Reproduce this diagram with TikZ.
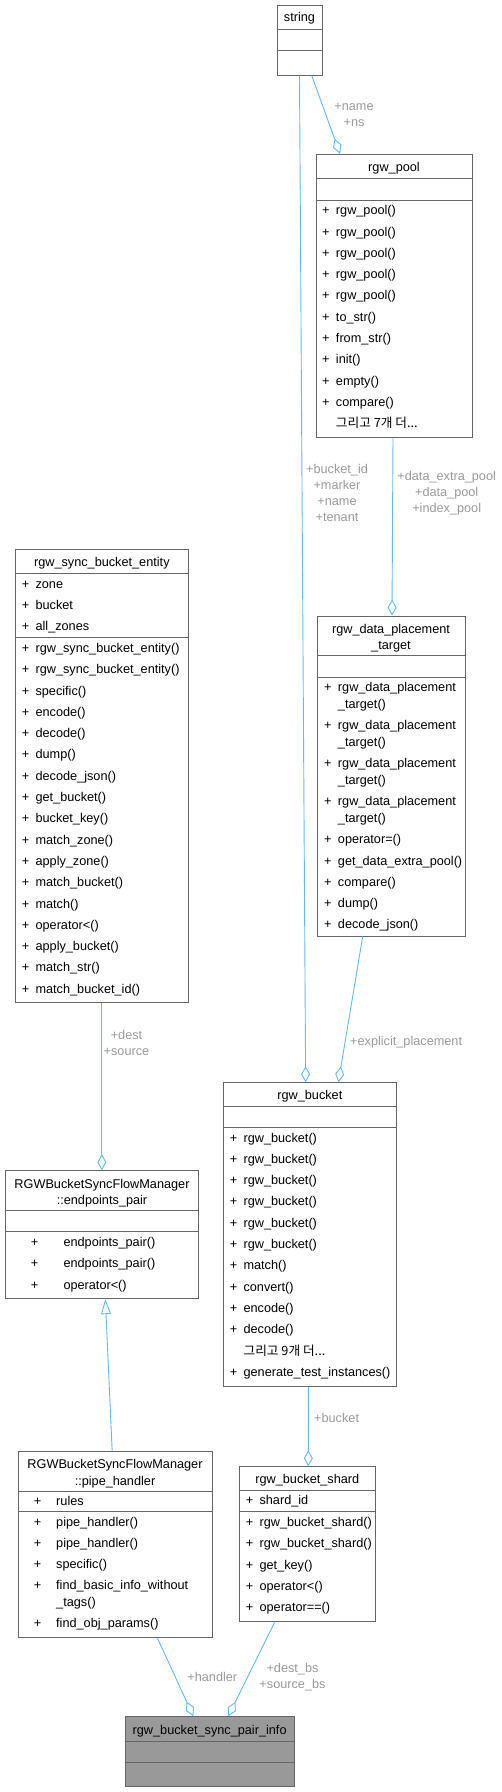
\documentclass[tikz,border=0pt]{standalone}
\usepackage{fontspec}
\setmainfont{Liberation Sans}
\newfontfamily\kr{Noto Sans CJK KR}
\usetikzlibrary{arrows.meta}
\definecolor{edgeblue}{HTML}{63B8FF}
\definecolor{boxgray}{HTML}{666666}
\definecolor{labelgray}{HTML}{9A9A9A}
\definecolor{mainfill}{HTML}{999999}
\begin{document}
\begin{tikzpicture}[x=1pt,y=-1pt,
 font=\fontsize{12.7}{21.3}\selectfont,
 cls/.style={draw=boxgray,line width=0.9pt,fill=white,inner sep=0pt},
 sep/.style={draw=boxgray,line width=0.9pt},
 title/.style={anchor=base,inner sep=0pt},
 title2/.style={anchor=north,align=center,inner sep=0pt,font=\fontsize{12.7}{16.3}\selectfont},
 rows/.style={anchor=north west,align=left,inner sep=0pt},
 agg/.style={draw=edgeblue,line width=0.9pt,-{Diamond[open,length=16pt,width=9pt]}},
 inh/.style={draw=edgeblue,line width=0.9pt,-{Triangle[open,length=15pt,width=10pt]}},
 lbl/.style={text=labelgray,align=center,inner sep=0pt,font=\fontsize{12.7}{16}\selectfont}]
\useasboundingbox (0,0) rectangle (502,1792);
% string
\node[cls,minimum width=45pt,minimum height=70pt] (str) at (299.5,40) {};
\node[title] (strT) at (299.5,21.8) {string};
\draw[sep] (str.west |- 0,29.3) -- (str.east |- 0,29.3);
\draw[sep] (str.west |- 0,50.7) -- (str.east |- 0,50.7);
% rgw_pool
\node[cls,minimum width=156pt,minimum height=283pt] (pool) at (394,295.7) {};
\node[title] (poolT) at (394,171.8) {rgw\_pool};
\draw[sep] (pool.west |- 0,178.3) -- (pool.east |- 0,178.3);
\draw[sep] (pool.west |- 0,200) -- (pool.east |- 0,200);
\node[rows] (poolM) at (322,199.6) {\strut+\enspace rgw\_pool()\\+\enspace rgw\_pool()\\+\enspace rgw\_pool()\\+\enspace rgw\_pool()\\+\enspace rgw\_pool()\\+\enspace to\_str()\\+\enspace from\_str()\\+\enspace init()\\+\enspace empty()\\+\enspace compare()\\\phantom{+}\enspace{\kr 그리고 7개 더...}};
% rgw_data_placement_target
\node[cls,minimum width=148pt,minimum height=320pt] (dpt) at (391,776) {};
\node[title2] (dptT) at (391,621.4) {\strut rgw\_data\_placement\\\_target};
\draw[sep] (dpt.west |- 0,655.7) -- (dpt.east |- 0,655.7);
\draw[sep] (dpt.west |- 0,677.3) -- (dpt.east |- 0,677.3);
\node[rows] (dptM) at (324,676.6) {\strut+\enspace rgw\_data\_placement\\[-4.6pt]\phantom{+}\enspace\_target()\\+\enspace rgw\_data\_placement\\[-4.6pt]\phantom{+}\enspace\_target()\\+\enspace rgw\_data\_placement\\[-4.6pt]\phantom{+}\enspace\_target()\\+\enspace rgw\_data\_placement\\[-4.6pt]\phantom{+}\enspace\_target()\\+\enspace operator=()\\+\enspace get\_data\_extra\_pool()\\+\enspace compare()\\+\enspace dump()\\+\enspace decode\_json()};
% rgw_sync_bucket_entity
\node[cls,minimum width=172.3pt,minimum height=453.4pt] (ent) at (101.85,776) {};
\node[title] (entT) at (101.85,566.2) {rgw\_sync\_bucket\_entity};
\draw[sep] (ent.west |- 0,573.3) -- (ent.east |- 0,573.3);
\draw[sep] (ent.west |- 0,637.3) -- (ent.east |- 0,637.3);
\node[rows] (entA) at (21.6,572.9) {\strut+\enspace zone\\+\enspace bucket\\+\enspace all\_zones};
\node[rows] (entM) at (21.6,637.3) {\strut+\enspace rgw\_sync\_bucket\_entity()\\+\enspace rgw\_sync\_bucket\_entity()\\+\enspace specific()\\+\enspace encode()\\+\enspace decode()\\+\enspace dump()\\+\enspace decode\_json()\\+\enspace get\_bucket()\\+\enspace bucket\_key()\\+\enspace match\_zone()\\+\enspace apply\_zone()\\+\enspace match\_bucket()\\+\enspace match()\\+\enspace operator<()\\+\enspace apply\_bucket()\\+\enspace match\_str()\\+\enspace match\_bucket\_id()};
% endpoints_pair
\node[cls,minimum width=193.7pt,minimum height=128pt] (pair) at (101.85,1234.7) {};
\node[title2] (pairT) at (102,1176.4) {\strut RGWBucketSyncFlowManager\\::endpoints\_pair};
\draw[sep] (pair.west |- 0,1210.7) -- (pair.east |- 0,1210.7);
\draw[sep] (pair.west |- 0,1231.7) -- (pair.east |- 0,1231.7);
\node[rows] (pairM) at (30.6,1231.3) {\strut+\hspace{25.3pt}endpoints\_pair()\\+\hspace{25.3pt}endpoints\_pair()\\+\hspace{25.3pt}operator<()};
% rgw_bucket
\node[cls,minimum width=173.7pt,minimum height=304pt] (bkt) at (309.85,1234.7) {};
\node[title] (bktT) at (309.85,1099.8) {rgw\_bucket};
\draw[sep] (bkt.west |- 0,1106.7) -- (bkt.east |- 0,1106.7);
\draw[sep] (bkt.west |- 0,1127.7) -- (bkt.east |- 0,1127.7);
\node[rows] (bktM) at (229.6,1126.9) {\strut+\enspace rgw\_bucket()\\+\enspace rgw\_bucket()\\+\enspace rgw\_bucket()\\+\enspace rgw\_bucket()\\+\enspace rgw\_bucket()\\+\enspace rgw\_bucket()\\+\enspace match()\\+\enspace convert()\\+\enspace encode()\\+\enspace decode()\\\phantom{+}\enspace{\kr 그리고 9개 더...}\\+\enspace generate\_test\_instances()};
% pipe_handler
\node[cls,minimum width=193.7pt,minimum height=186.3pt] (hdl) at (115.15,1544.15) {};
\node[title2] (hdlT) at (115,1457.1) {\strut RGWBucketSyncFlowManager\\::pipe\_handler};
\draw[sep] (hdl.west |- 0,1491) -- (hdl.east |- 0,1491);
\draw[sep] (hdl.west |- 0,1511.7) -- (hdl.east |- 0,1511.7);
\node[rows] (hdlA) at (33.6,1490.3) {\strut+\hspace{15pt}rules};
\node[rows] (hdlM) at (33.6,1510.9) {\strut+\hspace{15pt}pipe\_handler()\\+\hspace{15pt}pipe\_handler()\\+\hspace{15pt}specific()\\+\hspace{15pt}find\_basic\_info\_without\\[-4.6pt]\phantom{+}\hspace{15pt}\_tags()\\+\hspace{15pt}find\_obj\_params()};
% rgw_bucket_shard
\node[cls,minimum width=136pt,minimum height=154.3pt] (shd) at (307.3,1543.85) {};
\node[title] (shdT) at (307.3,1483.8) {rgw\_bucket\_shard};
\draw[sep] (shd.west |- 0,1490) -- (shd.east |- 0,1490);
\draw[sep] (shd.west |- 0,1511.3) -- (shd.east |- 0,1511.3);
\node[rows] (shdA) at (245.6,1489.6) {\strut+\enspace shard\_id};
\node[rows] (shdM) at (245.6,1511.3) {\strut+\enspace rgw\_bucket\_shard()\\+\enspace rgw\_bucket\_shard()\\+\enspace get\_key()\\+\enspace operator<()\\+\enspace operator==()};
% rgw_bucket_sync_pair_info
\node[cls,fill=mainfill,minimum width=169.3pt,minimum height=70pt] (info) at (209.65,1751.7) {};
\node[title] (infoT) at (209.65,1734.5) {rgw\_bucket\_sync\_pair\_info};
\draw[sep] (info.west |- 0,1741) -- (info.east |- 0,1741);
\draw[sep] (info.west |- 0,1762.3) -- (info.east |- 0,1762.3);
% relations
\draw[agg] (str.south) -- ([xshift=-4.2pt]bkt.north);
\node[lbl] (l1) at (337,493) {+bucket\_id\\+marker\\+name\\+tenant};
\draw[agg] ([xshift=12.2pt]str.south) -- ([xshift=-54pt]pool.north);
\node[lbl] (l2) at (354,115) {+name\\+ns};
\draw[agg] ([xshift=-1pt]pool.south) -- ([xshift=1pt]dpt.north);
\node[lbl] (l3) at (446.7,493) {+data\_extra\_pool\\+data\_pool\\+index\_pool};
\draw[agg] ([xshift=-28.3pt]dpt.south) -- ([xshift=28.5pt]bkt.north);
\node[lbl,anchor=west] (l4) at (350,1042.7) {+explicit\_placement};
\draw[agg] (ent.south) -- (pair.north);
\node[lbl] (l5) at (126.5,1042.5) {+dest\\+source};
\draw[inh] ([xshift=-3pt]hdl.north) -- ([xshift=3.5pt]pair.south);
\draw[agg] ([xshift=-1.5pt]bkt.south) -- ([xshift=1pt]shd.north);
\node[lbl,anchor=west] (l6) at (314,1418.3) {+bucket};
\draw[agg] ([xshift=42.15pt]hdl.south) -- ([xshift=-16.35pt]info.north);
\node[lbl] (l7) at (212.3,1677.3) {+handler};
\draw[agg] ([xshift=-32.3pt]shd.south) -- ([xshift=18.65pt]info.north);
\node[lbl] (l8) at (292.5,1677.5) {+dest\_bs\\+source\_bs};
\end{tikzpicture}
\end{document}
